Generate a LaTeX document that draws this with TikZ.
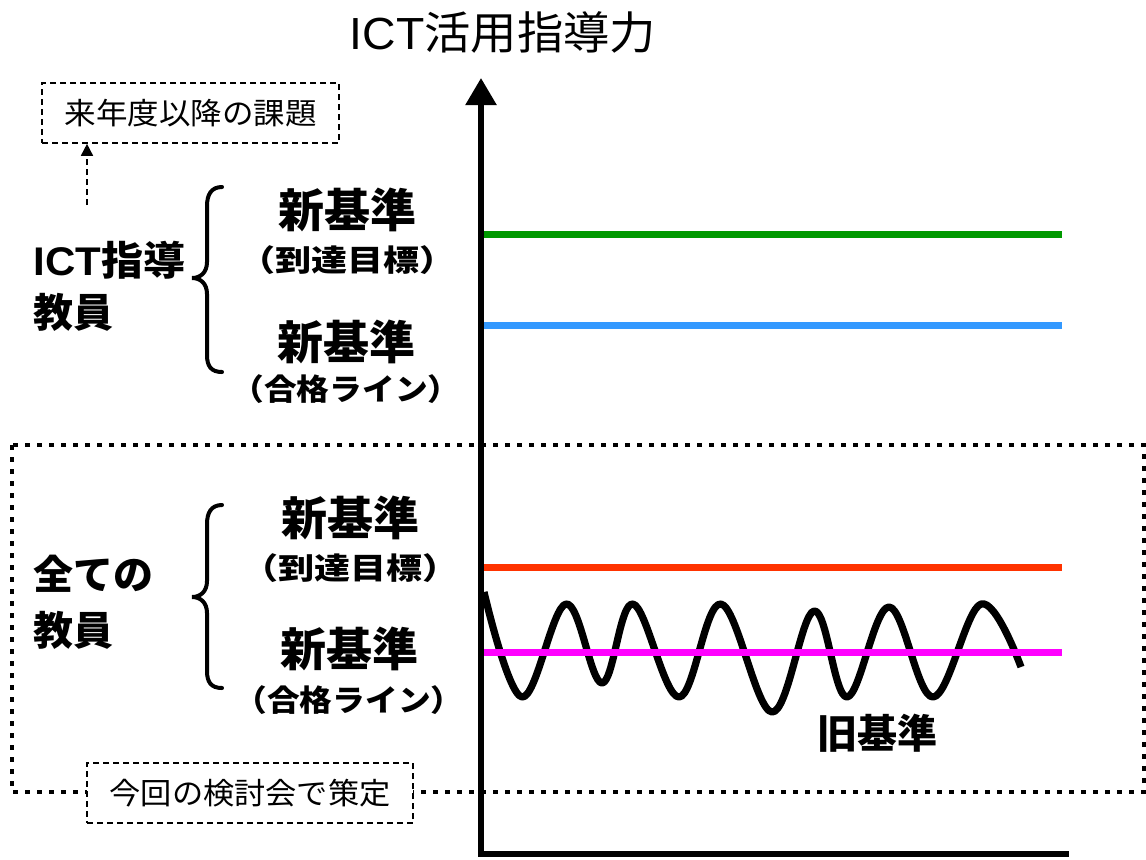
\documentclass[tikz,border=0pt]{standalone}
\usepackage{fontspec}
\setmainfont{Noto Sans CJK JP}
\newfontfamily\lat{Liberation Sans}
\usetikzlibrary{arrows.meta}
\definecolor{cgreen}{RGB}{0,153,0}
\definecolor{cblue}{RGB}{51,153,255}
\definecolor{cred}{RGB}{255,51,0}
\definecolor{cmag}{RGB}{255,0,255}
\tikzset{
  lvl/.style={line width=3.5pt},
  dbox/.style={draw, dash pattern=on 3pt off 2pt, line width=0.8pt, inner sep=0pt, fill=white,
    font=\fontsize{15pt}{15pt}\selectfont},
  bigstd/.style={inner sep=0pt, font=\fontsize{23pt}{23pt}\selectfont\bfseries},
  substd/.style={inner sep=0pt, font=\fontsize{15pt}{15pt}\selectfont\bfseries},
  grp/.style={inner sep=0pt, anchor=west, font=\fontsize{20pt}{20pt}\selectfont\bfseries},
  bracepath/.style={line width=2pt, line cap=round},
  axisline/.style={line width=2.8pt},
}
\begin{document}
\begin{tikzpicture}[x=0.5pt, y=-0.5pt]
\useasboundingbox (0,0) rectangle (1146,859);
% outer dotted frame
\draw[line width=2.3pt, dash pattern=on 2.5pt off 3.5pt] (12,445) rectangle (1144,792);
% title
\node[inner sep=0pt, font=\fontsize{22.5pt}{22.5pt}\selectfont] (title) at (503,32) {\scalebox{1.03}[1]{{\lat ICT}活用指導力}};
% level lines
\coordinate (gA) at (482,234); \coordinate (gB) at (1062,234);
\coordinate (bA) at (482,325); \coordinate (bB) at (1062,325);
\coordinate (rA) at (482,567); \coordinate (rB) at (1062,567);
\coordinate (mA) at (482,652); \coordinate (mB) at (1062,652);
\draw[lvl, cgreen] (gA) -- (gB);
\draw[lvl, cblue] (bA) -- (bB);
\draw[lvl, cred] (rA) -- (rB);
% old standard wave
\draw[line width=3.6pt, line join=round] plot[smooth, tension=0.62] coordinates {
  (484,592) (522,697) (566,604) (602,683) (633,604) (679,697) (721,604)
  (772,712) (814,611) (847,697) (889,607) (933,697) (981,604) (1021,667)};
\draw[lvl, cmag] (mA) -- (mB);
\node[inner sep=0pt, font=\fontsize{20pt}{20pt}\selectfont\bfseries] (old) at (877,733) {旧基準};
% axes
\coordinate (ytop) at (481,78);
\coordinate (origin) at (481,854);
\coordinate (xend) at (1069,854);
\draw[axisline, {Triangle[width=15pt,length=13.5pt]}-] (ytop) -- (origin) -- (xend);
% upper group
\node[dbox, minimum width=148.5pt, minimum height=30pt] (kadai) at (190.5,113) {\scalebox{1.05}[1]{来年度以降の課題}};
\coordinate (arrstart) at (87,205);
\draw[dash pattern=on 3pt off 2pt, line width=0.8pt, -{Triangle[width=6pt,length=6pt]}] (arrstart) -- (arrstart |- kadai.south);
\node[grp] (ict1) at (33,260) {\scalebox{1.05}[1]{{\lat\bfseries ICT}指導}};
\node[grp] (ict2) at (33,312) {教員};
\draw[bracepath] (222,187) .. controls (211,187) and (207,195) .. (207,206) -- (207,262)
  .. controls (207,273) and (200,278) .. (192,278) .. controls (200,278) and (207,283) .. (207,294)
  -- (207,355) .. controls (207,366) and (211,372) .. (222,372);
\node[bigstd] (n1) at (347,210) {新基準};
\node[substd] (s1) at (347,260) {\scalebox{1.2}[1]{（到達目標）}};
\node[bigstd] (n2) at (346,342) {新基準};
\node[substd] (s2) at (346,389) {\scalebox{1.09}[1]{（合格ライン）}};
% lower group
\node[grp] (all1) at (33,574) {全ての};
\node[grp] (all2) at (33,630) {教員};
\draw[bracepath] (222,505) .. controls (211,505) and (207,513) .. (207,524) -- (207,581)
  .. controls (207,592) and (200,597) .. (192,597) .. controls (200,597) and (207,602) .. (207,613)
  -- (207,671) .. controls (207,682) and (211,688) .. (222,688);
\node[bigstd] (n3) at (350,518) {新基準};
\node[substd] (s3) at (350,568) {\scalebox{1.2}[1]{（到達目標）}};
\node[bigstd] (n4) at (349,649) {新基準};
\node[substd] (s4) at (349,700) {\scalebox{1.09}[1]{（合格ライン）}};
\node[dbox, minimum width=163pt, minimum height=30pt] (konkai) at (250,793) {\scalebox{1.04}[1]{今回の検討会で策定}};
\end{tikzpicture}
\end{document}
